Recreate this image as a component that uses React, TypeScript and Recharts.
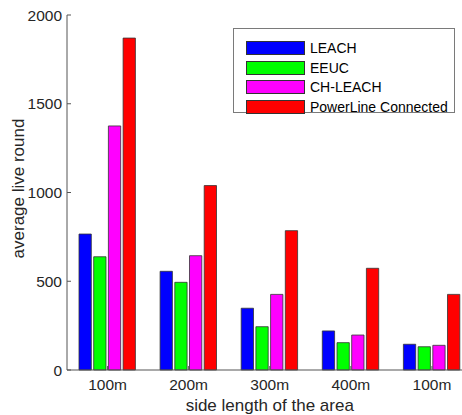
import React from 'react';
import { BarChart, Bar, XAxis, YAxis, Legend } from 'recharts';

const categories = ['100m', '200m', '300m', '400m', '100m'];
const leach = [766, 556, 348, 220, 145];
const eeuc = [638, 494, 244, 154, 131];
const chLeach = [1375, 644, 426, 197, 139];
const powerLine = [1870, 1039, 785, 573, 426];
const yTicks = [0, 500, 1000, 1500, 2000];

const series = [
  { key: 'leach', name: 'LEACH', color: '#0000ff' },
  { key: 'eeuc', name: 'EEUC', color: '#00ff00' },
  { key: 'chLeach', name: 'CH-LEACH', color: '#ff00ff' },
  { key: 'powerLine', name: 'PowerLine Connected', color: '#ff0000' },
];

const data = categories.map((c, i) => ({
  idx: i,
  leach: leach[i],
  eeuc: eeuc[i],
  chLeach: chLeach[i],
  powerLine: powerLine[i],
}));

const FONT = '"Liberation Sans", Arial, Helvetica, sans-serif';
const AXIS = '#555';
const TEXT = '#262626';

const YTick = ({ x, y, payload }: any) => (
  <g>
    <line x1={x} y1={y} x2={x + 4} y2={y} stroke={AXIS} />
    <text x={x - 5} y={y} textAnchor="end" dominantBaseline="central" fontSize={15.5} fill={TEXT} fontFamily={FONT}>
      {payload.value}
    </text>
  </g>
);

const XTick = ({ x, y, payload }: any) => (
  <g>
    <line x1={x} y1={y} x2={x} y2={y - 4} stroke={AXIS} />
    <text x={x} y={y + 20} textAnchor="middle" fontSize={15.5} fill={TEXT} fontFamily={FONT}>
      {categories[payload.value]}
    </text>
  </g>
);

const TopTick = ({ x, y }: any) => <line x1={x} y1={y} x2={x} y2={y + 4} stroke={AXIS} />;

const renderLegend = () => (
  <div
    style={{
      width: 222,
      height: 85,
      border: '1px solid #7a7a7a',
      background: '#fff',
      boxSizing: 'border-box',
      paddingTop: 9,
      fontFamily: FONT,
      fontSize: 14,
      color: '#000',
    }}
  >
    {series.map(s => (
      <div key={s.key} style={{ display: 'flex', alignItems: 'center', height: 19.8 }}>
        <span
          style={{
            display: 'inline-block',
            width: 59,
            height: 14,
            marginLeft: 12,
            marginRight: 5,
            background: s.color,
            border: '1px solid #333',
            boxSizing: 'border-box',
          }}
        />
        <span>{s.name}</span>
      </div>
    ))}
  </div>
);

const App = () => {
  return (
    <div style={{ position: 'fixed', left: 0, top: 0, width: 462, height: 415, overflow: 'hidden', background: '#fff' }}>
      <BarChart
        width={480}
        height={415}
        data={data}
        margin={{ top: 15, right: 7.5, left: 0, bottom: 0 }}
        barSize={12.3}
        barGap={2.4}
      >
        <XAxis
          xAxisId="top"
          orientation="top"
          dataKey="idx"
          height={0}
          tickSize={0}
          tickMargin={0}
          tick={<TopTick />}
          axisLine={{ stroke: AXIS }}
        />
        <XAxis
          dataKey="idx"
          height={45}
          tickSize={0}
          tickMargin={0}
          tick={<XTick />}
          axisLine={{ stroke: AXIS }}
          label={{
            value: 'side length of the area',
            position: 'insideBottom',
            offset: 4,
            fontSize: 17,
            fill: TEXT,
            fontFamily: FONT,
          }}
        />
        <YAxis
          width={67}
          domain={[0, 2000]}
          ticks={yTicks}
          tickSize={0}
          tickMargin={0}
          tick={<YTick />}
          axisLine={{ stroke: AXIS }}
          label={{
            content: ({ viewBox }: any) => {
              const cx = 24;
              const cy = viewBox.y + viewBox.height / 2 - 4;
              return (
                <text
                  x={cx}
                  y={cy}
                  transform={`rotate(-90, ${cx}, ${cy})`}
                  textAnchor="middle"
                  fontSize={17}
                  fill={TEXT}
                  fontFamily={FONT}
                >
                  average live round
                </text>
              );
            },
          }}
        />
        <Legend
          content={renderLegend}
          layout="vertical"
          align="center"
          verticalAlign="middle"
          wrapperStyle={{ position: 'absolute', left: 233, top: 28, width: 222 }}
        />
        {series.map(s => (
          <Bar
            key={s.key}
            dataKey={s.key}
            name={s.name}
            fill={s.color}
            stroke="#333"
            strokeWidth={0.8}
            isAnimationActive={false}
          />
        ))}
      </BarChart>
    </div>
  );
};

export default App;
